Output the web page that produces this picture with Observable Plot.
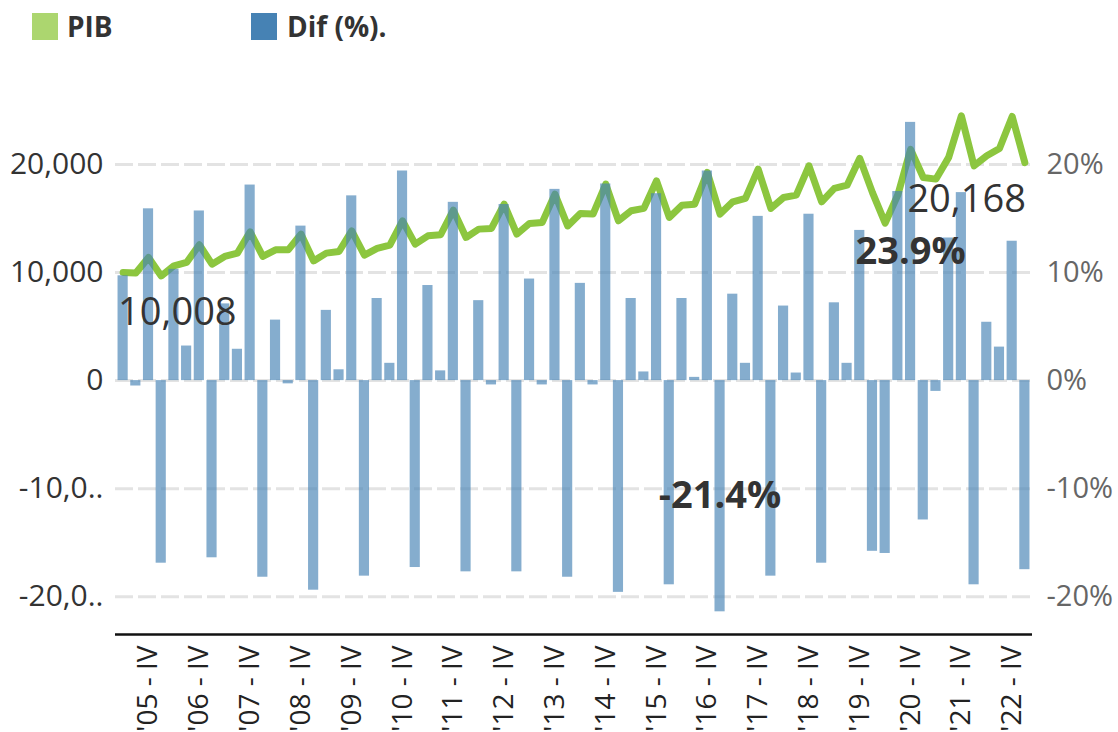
<!DOCTYPE html>
<html><head><meta charset="utf-8">
<script src="https://cdn.jsdelivr.net/npm/d3@7"></script>
<script src="https://cdn.jsdelivr.net/npm/@observablehq/plot@0.6"></script>
<style>
body{margin:0;background:#fff;font-family:"Open Sans",sans-serif;}
#legend{position:relative;height:55px;}
.sw{position:absolute;top:13px;width:26px;height:27px;}
.lt{position:absolute;top:8px;font-weight:700;font-size:28px;color:#333;line-height:36px;white-space:nowrap;}
#chart svg{display:block;}
</style></head><body>
<div id="legend">
  <div class="sw" style="left:32px;background:#acd66f"></div><div class="lt" style="left:67px">PIB</div>
  <div class="sw" style="left:251px;background:#4682b4"></div><div class="lt" style="left:287px">Dif (%).</div>
</div>
<div id="chart"></div>
<script>
// ---- data ----
const yearLabels = ["'05","'06","'07","'08","'09","'10","'11","'12","'13","'14","'15","'16","'17","'18","'19","'20","'21","'22","'23"];
const quarterLabels = ["I","II","III","IV"];
// series runs from '05 - II to '23 - I (72 quarters)
const pib = [
  10008, 9960, 11400, 9690,
  10620, 10935, 12570, 10780,
  11490, 11800, 13770, 11490,
  12100, 12100, 13560, 11080,
  11800, 11950, 13860, 11610,
  12230, 12540, 14790, 12630,
  13400, 13500, 15780, 13250,
  14020, 14080, 16330, 13560,
  14550, 14640, 17260, 14320,
  15470, 15410, 18190, 14790,
  15720, 15940, 18490, 15100,
  16240, 16330, 19270, 15410,
  16550, 16860, 19570, 15940,
  16950, 17170, 19880, 16550,
  17790, 18090, 20570, 17400,
  14570, 17200, 21400, 18800,
  18650, 20660, 24510, 19880,
  20810, 21490, 24450, 20168
];
const dif = [
  9.7, -0.5, 15.9, -16.9,
  10.3, 3.2, 15.7, -16.4,
  7.1, 2.9, 18.1, -18.2,
  5.6, -0.3, 14.3, -19.4,
  6.5, 1.0, 17.1, -18.1,
  7.6, 1.6, 19.4, -17.3,
  8.8, 0.9, 16.5, -17.7,
  7.4, -0.4, 16.3, -17.7,
  9.4, -0.4, 17.7, -18.2,
  9.0, -0.4, 18.2, -19.6,
  7.6, 0.8, 17.3, -18.9,
  7.6, 0.3, 19.4, -21.4,
  8.0, 1.6, 15.2, -18.1,
  6.9, 0.7, 15.4, -16.9,
  7.2, 1.6, 13.9, -15.8,
  -16.0, 17.5, 23.9, -12.9,
  -1.0, 13.2, 17.4, -18.9,
  5.4, 3.1, 12.9, -17.5
];
const yTicks = [-20000, -10000, 0, 10000, 20000];
const leftTickLabels = ["-20,0..", "-10,0..", "0", "10,000", "20,000"];
const rightTickLabels = ["-20%", "-10%", "0%", "10%", "20%"];

// ---- build table ----
const periods = pib.map((_, i) => {
  const k = i + 1; // first point is quarter II of '05
  return `${yearLabels[Math.floor(k / 4)]} - ${quarterLabels[k % 4]}`;
});
const data = periods.map((p, i) => ({period: p, pib: pib[i], dif: dif[i]}));
const xTicks = periods.filter(p => p.endsWith(" - IV"));
const leftMap = new Map(yTicks.map((t, i) => [t, leftTickLabels[i]]));
const rightMap = new Map(yTicks.map((t, i) => [t, rightTickLabels[i]]));
const PCT = 1000; // right axis: 1% shares the position of 1,000 on the left axis
const maxBar = data.reduce((a, b) => b.dif > a.dif ? b : a);
const minBar = data.reduce((a, b) => b.dif < a.dif ? b : a);
const fmt = d3.format(",");

const chart = Plot.plot({
  width: 1118,
  height: 677,
  marginTop: 55,
  marginBottom: 98,
  marginLeft: 115,
  marginRight: 86,
  style: {fontFamily: "'Open Sans', sans-serif", background: "#fff", overflow: "visible"},
  x: {type: "band", domain: periods, padding: 0.2},
  y: {domain: [-23500, 25000]},
  marks: [
    Plot.gridY(yTicks, {stroke: "#e3e3e3", strokeOpacity: 1, strokeWidth: 3, strokeDasharray: "18,5"}),
    Plot.line(data, {x: "period", y: "pib", stroke: "#8cc63f", strokeWidth: 7, strokeLinejoin: "round", strokeLinecap: "round"}),
    Plot.barY(data, {x: "period", y: d => d.dif * PCT, fill: "#4682b4", fillOpacity: 0.66}),
    Plot.ruleY([-23500], {stroke: "#111", strokeWidth: 2.5}),
    Plot.axisY({anchor: "left", ticks: yTicks, tickFormat: d => leftMap.get(d), tickSize: 0, tickPadding: 12, fontSize: 30, color: "#333", label: null}),
    Plot.axisY({anchor: "right", ticks: yTicks, tickFormat: d => rightMap.get(d), tickSize: 0, tickPadding: 14, fontSize: 29, color: "#666", label: null}),
    Plot.axisX({ticks: xTicks, tickFormat: d => d, tickRotate: -90, tickSize: 0, tickPadding: 11, fontSize: 28, color: "#222", label: null}),
    Plot.text([data[0]], {x: "period", y: "pib", text: d => fmt(d.pib), textAnchor: "start", dx: -5, dy: 40, fontSize: 38, fill: "#333"}),
    Plot.text([data[data.length - 1]], {x: "period", y: "pib", text: d => fmt(d.pib), textAnchor: "end", dx: 1, dy: 37, fontSize: 38, fill: "#333"}),
    Plot.text([maxBar, minBar], {x: "period", y: d => d.dif * PCT / 2, text: d => d.dif + "%", fontSize: 38, fontWeight: "bold", fill: "#333"})
  ]
});
document.getElementById("chart").appendChild(chart);
</script>
</body></html>
